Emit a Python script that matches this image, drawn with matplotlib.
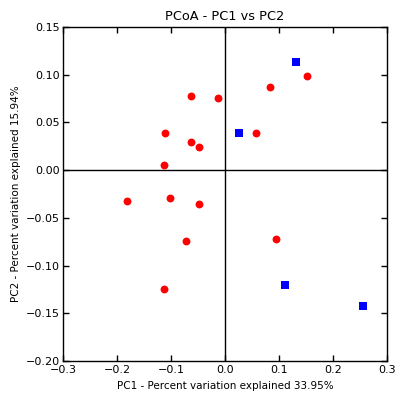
import matplotlib
matplotlib.use("Agg")
import matplotlib.pyplot as plt

red_x = [0.152, 0.084, -0.0636, -0.0123, -0.112, 0.058, -0.0636, -0.049, -0.113,
         -0.181, -0.102, -0.049, -0.072, 0.094, -0.113]
red_y = [0.0986, 0.087, 0.0776, 0.0752, 0.0385, 0.0388, 0.0294, 0.024, 0.0056,
         -0.032, -0.0287, -0.0354, -0.0738, -0.0717, -0.1249]
blue_x = [0.131, 0.025, 0.111, 0.255]
blue_y = [0.113, 0.039, -0.1207, -0.1427]

xticks = [-0.3, -0.2, -0.1, 0.0, 0.1, 0.2, 0.3]
yticks = [-0.20, -0.15, -0.10, -0.05, 0.00, 0.05, 0.10, 0.15]

fig = plt.figure(figsize=(3.95, 4.0), dpi=100)
ax = fig.add_axes([63/395, 1-361/400, (387-63)/395, (361-27)/400])

ax.axhline(0, color="black", lw=1, zorder=1)
ax.axvline(0, color="black", lw=1, zorder=1)
ax.scatter(red_x, red_y, s=32, c="red", marker="o", linewidths=0, zorder=3)
ax.scatter(blue_x, blue_y, s=30, c="blue", marker="s", linewidths=0, zorder=3)

ax.set_xlim(-0.3, 0.3)
ax.set_ylim(-0.2, 0.15)
ax.set_xticks(xticks)
ax.set_yticks(yticks)
ax.set_xticklabels([f"{v:.1f}".replace("-", "\u2212") for v in xticks], fontsize=8)
ax.set_yticklabels([f"{v:.2f}".replace("-", "\u2212") for v in yticks], fontsize=8)
ax.tick_params(axis="x", direction="in", top=True, length=4, width=1, pad=3)
ax.tick_params(axis="y", direction="in", right=True, length=4, width=1, pad=2)
for s in ax.spines.values():
    s.set_linewidth(1)

ax.set_title("PCoA - PC1 vs PC2", fontsize=9.3, pad=5)
ax.set_xlabel("PC1 - Percent variation explained 33.95%", fontsize=7.5, labelpad=4)
ax.set_ylabel("PC2 - Percent variation explained 15.94%", fontsize=7.5, labelpad=4)

fig.savefig("out.png", dpi=100)
